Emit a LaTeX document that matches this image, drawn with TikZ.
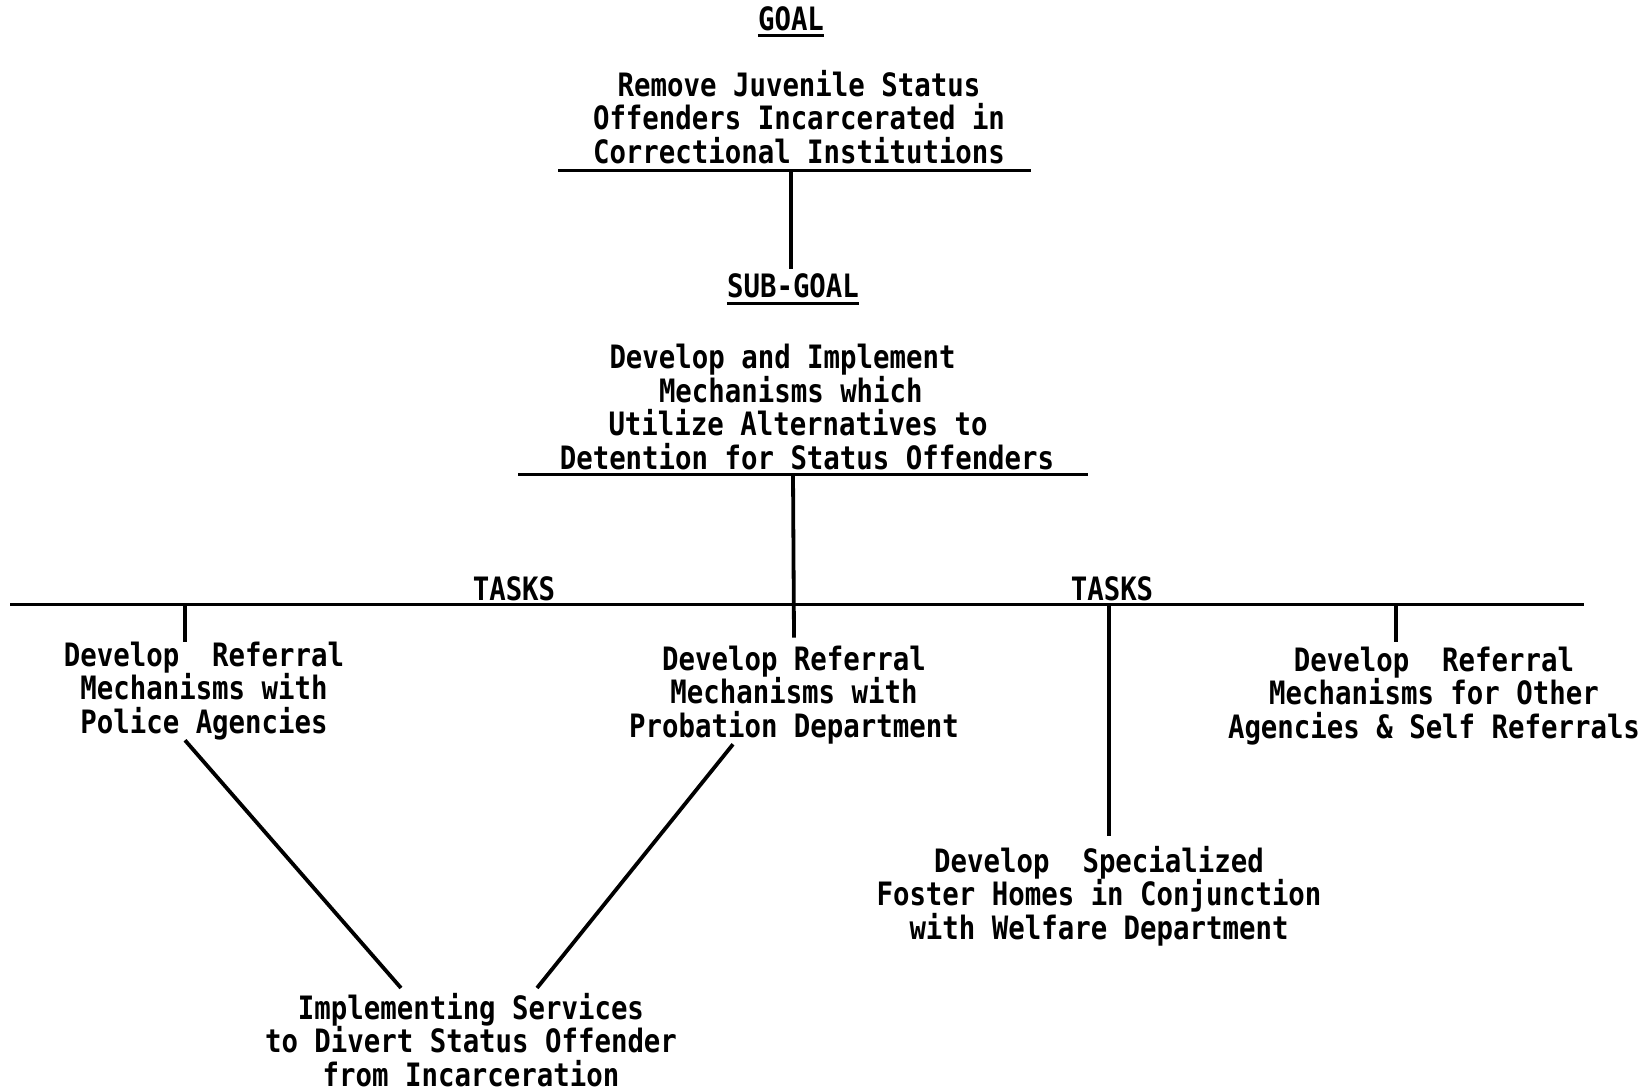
\documentclass[tikz,border=0pt]{standalone}
\usepackage{fontspec}
\newfontfamily\typefont{DejaVu Sans Mono}[FakeStretch=0.85]
\begin{document}
\begin{tikzpicture}[x=1pt,y=-1pt,
  txt/.style={font=\typefont\bfseries\fontsize{32.2}{33.5}\selectfont, align=center, inner sep=0pt, text=black},
  bar/.style={line width=3.8pt, draw=black},
  rule/.style={line width=3pt, draw=black}]
\useasboundingbox[fill=white] (0,0) rectangle (1648,1091);

% goal
\node[txt] (goalhdr) at (791,19) {GOAL};
\draw[rule] ([yshift=-4pt]goalhdr.south west) -- ([yshift=-4pt]goalhdr.south east);
\node[txt] (goal) at (799,117) {Remove Juvenile Status\\Offenders Incarcerated in\\Correctional Institutions};
\coordinate (gl) at (558,171);
\coordinate (gr) at (1031,171);
\coordinate (gj) at (791,171);

% sub-goal (typed lines, each set off by hand)
\node[txt] (sub) at (807,407) {\makebox[395pt][l]{Develop and Implement}\\\makebox[296pt][l]{Mechanisms which}\\\makebox[397pt][l]{Utilize Alternatives to}\\Detention for Status Offenders};
\node[txt] (subhdr) at (793,286) {SUB-GOAL};
\draw[rule] ([yshift=-5pt]subhdr.south west) -- ([yshift=-5pt]subhdr.south east);
\coordinate (sl) at (518,474);
\coordinate (sr) at (1088,474);
\coordinate (sj) at (793,474);

% task bar
\coordinate (tl) at (10,604);
\coordinate (tr) at (1584,604);
\node[txt] (taskL) at (514,589) {TASKS};
\node[txt] (taskR) at (1112,589) {TASKS};
\coordinate (lj) at (185,604);
\coordinate (fj) at (1109,604);
\coordinate (rj) at (1396,604);

% tasks
\node[txt] (left) at (204,691) {Develop~ Referral\\Mechanisms with\\Police Agencies};
\node[txt] (mid) at (794,695) {Develop Referral\\Mechanisms with\\Probation Department};
\node[txt] (right) at (1434,696) {Develop~ Referral\\Mechanisms for Other\\Agencies \& Self Referrals};
\node[txt] (foster) at (1099,896) {Develop~ Specialized\\Foster Homes in Conjunction\\with Welfare Department};
\node[txt] (impl) at (471,1040) {Implementing Services\\to Divert Status Offender\\from Incarceration};

% connectors
\draw[rule] (gl) -- (gr);
\draw[bar] (gj) -- ([yshift=5pt]gj |- subhdr.north);
\draw[rule] (sl) -- (sr);
\draw[bar] (sj) -- ([yshift=8pt]mid.north);
\draw[rule] (tl) -- (tr);
\draw[bar] (lj) -- (lj |- left.north);
\draw[bar] (fj) -- ([yshift=10pt]fj |- foster.north);
\draw[bar] (rj) -- ([yshift=5pt]rj |- right.north);
\draw[bar] ([xshift=-19pt]left.south) -- ([xshift=-70pt,yshift=5pt]impl.north);
\draw[bar] ([xshift=-61pt]mid.south) -- ([xshift=66pt,yshift=5pt]impl.north);
\end{tikzpicture}
\end{document}
